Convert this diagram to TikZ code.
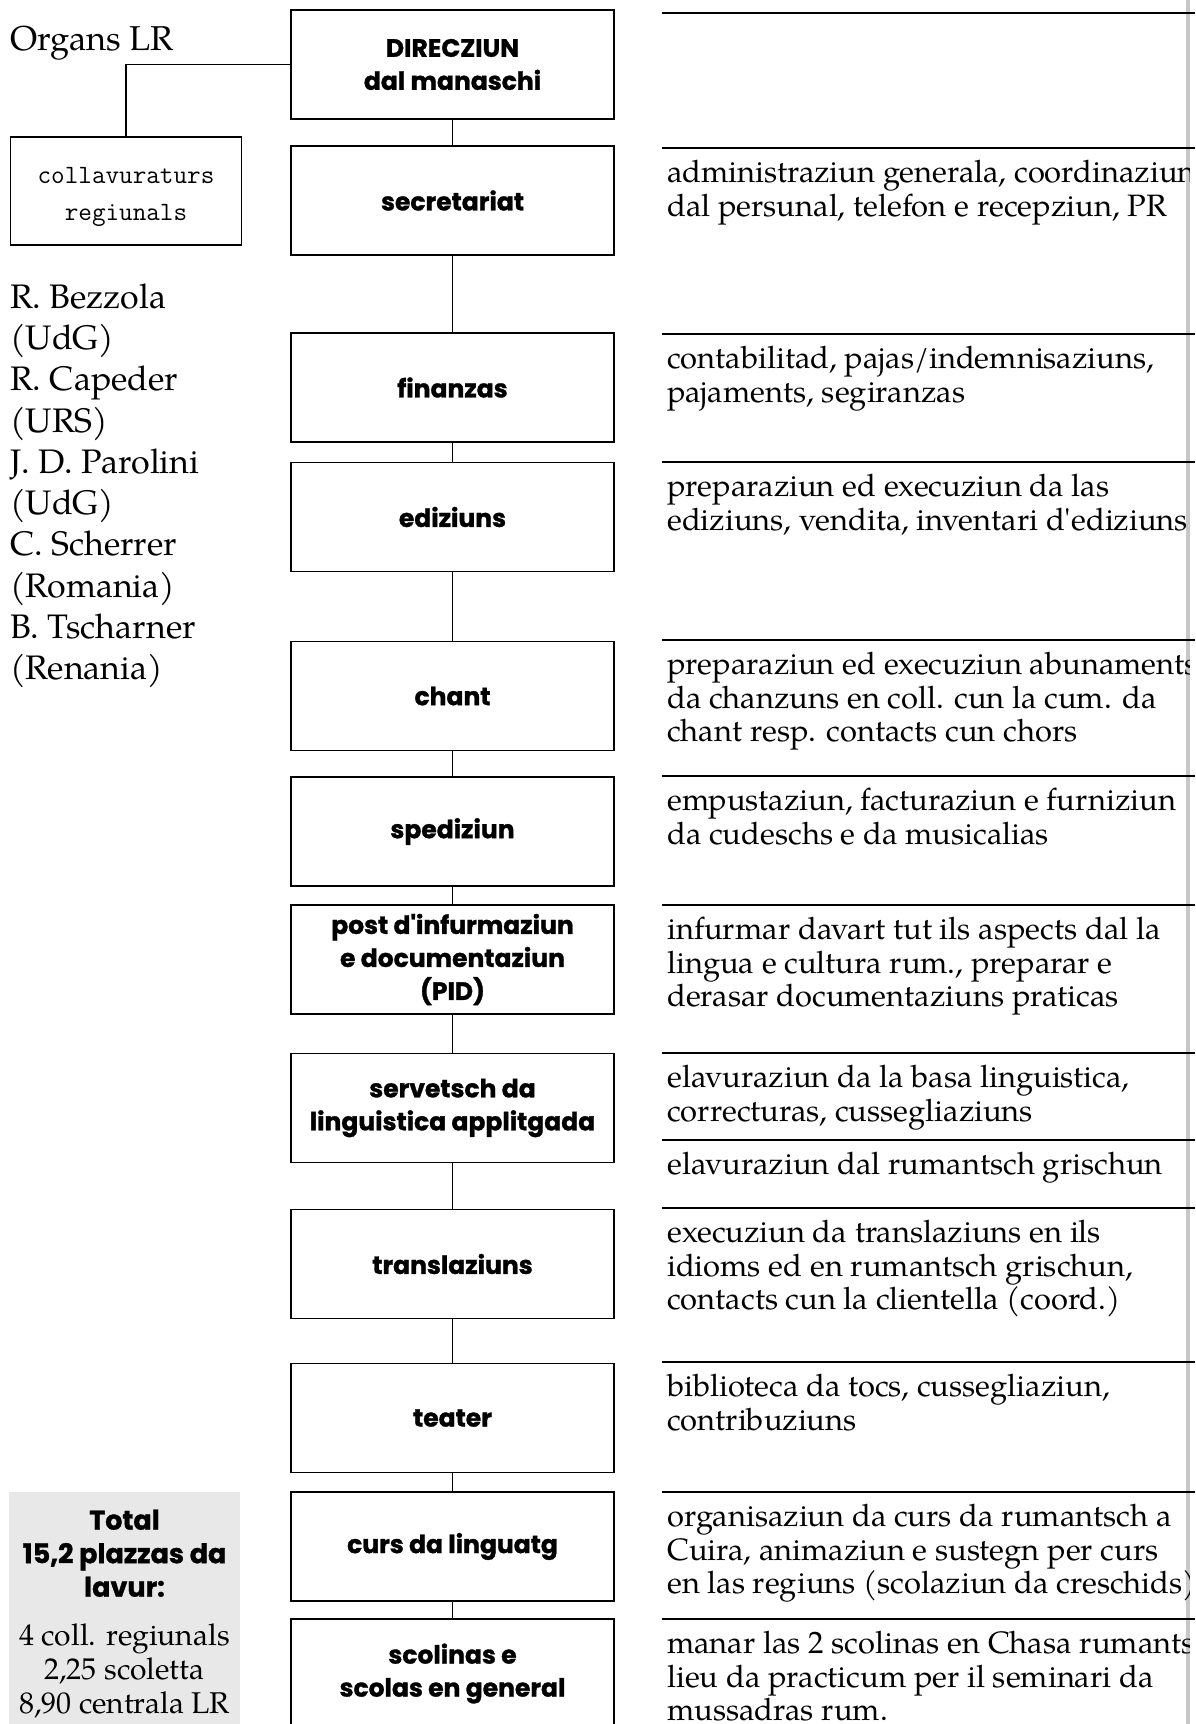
\documentclass[tikz,border=0pt]{standalone}
\usepackage{fontspec}
\newfontfamily\futura{Poppins}[BoldFeatures={FakeBold=1.2}]
\IfFontExistsTF{TeX Gyre Pagella}
  {\newfontfamily\palfont{TeX Gyre Pagella}}
  {\newfontfamily\palfont{Liberation Serif}}
\newcommand\typfont{\ttfamily}
\begin{document}
\begin{tikzpicture}[x=1pt,y=-1pt,
  mbox/.style={draw, line width=1.4pt, minimum width=323pt, minimum height=109pt,
    inner sep=0pt, align=center, font=\futura\bfseries\fontsize{25}{33}\selectfont},
  desc/.style={anchor=north west, inner sep=0pt, align=left,
    font=\palfont\fontsize{30.9}{33.5}\selectfont},
  rulel/.style={line width=1.3pt},
  conn/.style={line width=1.3pt}]
\useasboundingbox (0,0) rectangle (1195,1724);
\fill[white] (0,0) rectangle (1195,1724);
% page edge
\fill[black!22] (1186,0) rectangle (1190,1724);
% main boxes
\node[mbox] (dir) at (452.5,64.5) {DIRECZIUN\\dal manaschi};
\node[mbox] (sec) at (452.5,200.5) {secretariat};
\node[mbox] (fin) at (452.5,387.5) {finanzas};
\node[mbox] (edi) at (452.5,517) {ediziuns};
\node[mbox] (cha) at (452.5,696) {chant};
\node[mbox] (spe) at (452.5,831.5) {spediziun};
\node[mbox] (pid) at (452.5,959.5) {post d'infurmaziun\\e documentaziun\\(PID)};
\node[mbox] (ser) at (452.5,1108) {servetsch da\\linguistica applitgada};
\node[mbox] (tra) at (452.5,1264) {translaziuns};
\node[mbox] (tea) at (452.5,1418) {teater};
\node[mbox] (cur) at (452.5,1546.5) {curs da linguatg};
\node[mbox] (sco) at (452.5,1673.5) {scolinas e\\scolas en general};
\draw[conn] (dir) -- (sec);
\draw[conn] (sec) -- (fin);
\draw[conn] (fin) -- (edi);
\draw[conn] (edi) -- (cha);
\draw[conn] (cha) -- (spe);
\draw[conn] (spe) -- (pid);
\draw[conn] (pid) -- (ser);
\draw[conn] (ser) -- (tra);
\draw[conn] (tra) -- (tea);
\draw[conn] (tea) -- (cur);
\draw[conn] (cur) -- (sco);
% left side
\node[anchor=base west, inner sep=0pt, font=\palfont\fontsize{34.5}{40}\selectfont] (org) at (10,50) {Organs LR};
\node[draw, line width=1.3pt, minimum width=231pt, minimum height=108pt, inner sep=0pt] (col) at (126,191) {};
\node[inner sep=0pt, align=center, font=\typfont\fontsize{26.4}{37}\selectfont] (colT) at (126,197) {collavuraturs\\regiunals};
\draw[conn] (dir.west) -| (col.north);
\node[anchor=north west, inner sep=0pt, align=left, font=\palfont\fontsize{34}{41.3}\selectfont] (names) at (10,279)
  {\strut R. Bezzola\\(UdG)\\R. Capeder\\(URS)\\J. D. Parolini\\(UdG)\\C. Scherrer\\(Romania)\\B. Tscharner\\(Renania)};
% total box
\node[fill=black!9, minimum width=231pt, minimum height=240pt, anchor=north west, inner sep=0pt] (tot) at (9,1492) {};
\node[anchor=north, inner sep=0pt, align=center, font=\futura\bfseries\fontsize{27}{33.5}\selectfont] (totT) at (124.5,1506)
  {\strut Total\\15,2 plazzas da\\lavur:};
\node[anchor=north, inner sep=0pt, align=center, font=\palfont\fontsize{30}{34}\selectfont] (totN) at (124.5,1621)
  {\strut 4 coll. regiunals\\2,25 scoletta\\8,90 centrala LR};
% right side rules
\foreach \yy in {13,148,334,462,640,776,905,1053,1140,1208,1362,1492,1619}
  \draw[rulel] (662,\yy) -- (1195,\yy);
% descriptions
\begin{scope}
\clip (0,0) rectangle (1189,1724);
\node[desc] (d2) at (667,159) {\strut administraziun generala, coordinaziun\\dal persunal, telefon e recepziun, PR};
\node[desc] (d3) at (667,345) {\strut contabilitad, pajas/indemnisaziuns,\\pajaments, segiranzas};
\node[desc] (d4) at (667,473) {\strut preparaziun ed execuziun da las\\ediziuns, vendita, inventari d'ediziuns};
\node[desc] (d5) at (667,651) {\strut preparaziun ed execuziun abunaments\\da chanzuns en coll. cun la cum. da\\chant resp. contacts cun chors};
\node[desc] (d6) at (667,787) {\strut empustaziun, facturaziun e furniziun\\da cudeschs e da musicalias};
\node[desc] (d7) at (667,916) {\strut infurmar davart tut ils aspects dal la\\lingua e cultura rum., preparar e\\derasar documentaziuns praticas};
\node[desc] (d8) at (667,1064) {\strut elavuraziun da la basa linguistica,\\correcturas, cussegliaziuns};
\node[desc] (d9) at (667,1151) {\strut elavuraziun dal rumantsch grischun};
\node[desc] (d10) at (667,1219) {\strut execuziun da translaziuns en ils\\idioms ed en rumantsch grischun,\\contacts cun la clientella (coord.)};
\node[desc] (d11) at (667,1373) {\strut biblioteca da tocs, cussegliaziun,\\contribuziuns};
\node[desc] (d12) at (667,1503) {\strut organisaziun da curs da rumantsch a\\Cuira, animaziun e sustegn per curs\\en las regiuns (scolaziun da creschids)};
\node[desc] (d13) at (667,1630) {\strut manar las 2 scolinas en Chasa rumantscha,\\lieu da practicum per il seminari da\\mussadras rum.};
\end{scope}
\end{tikzpicture}
\end{document}
